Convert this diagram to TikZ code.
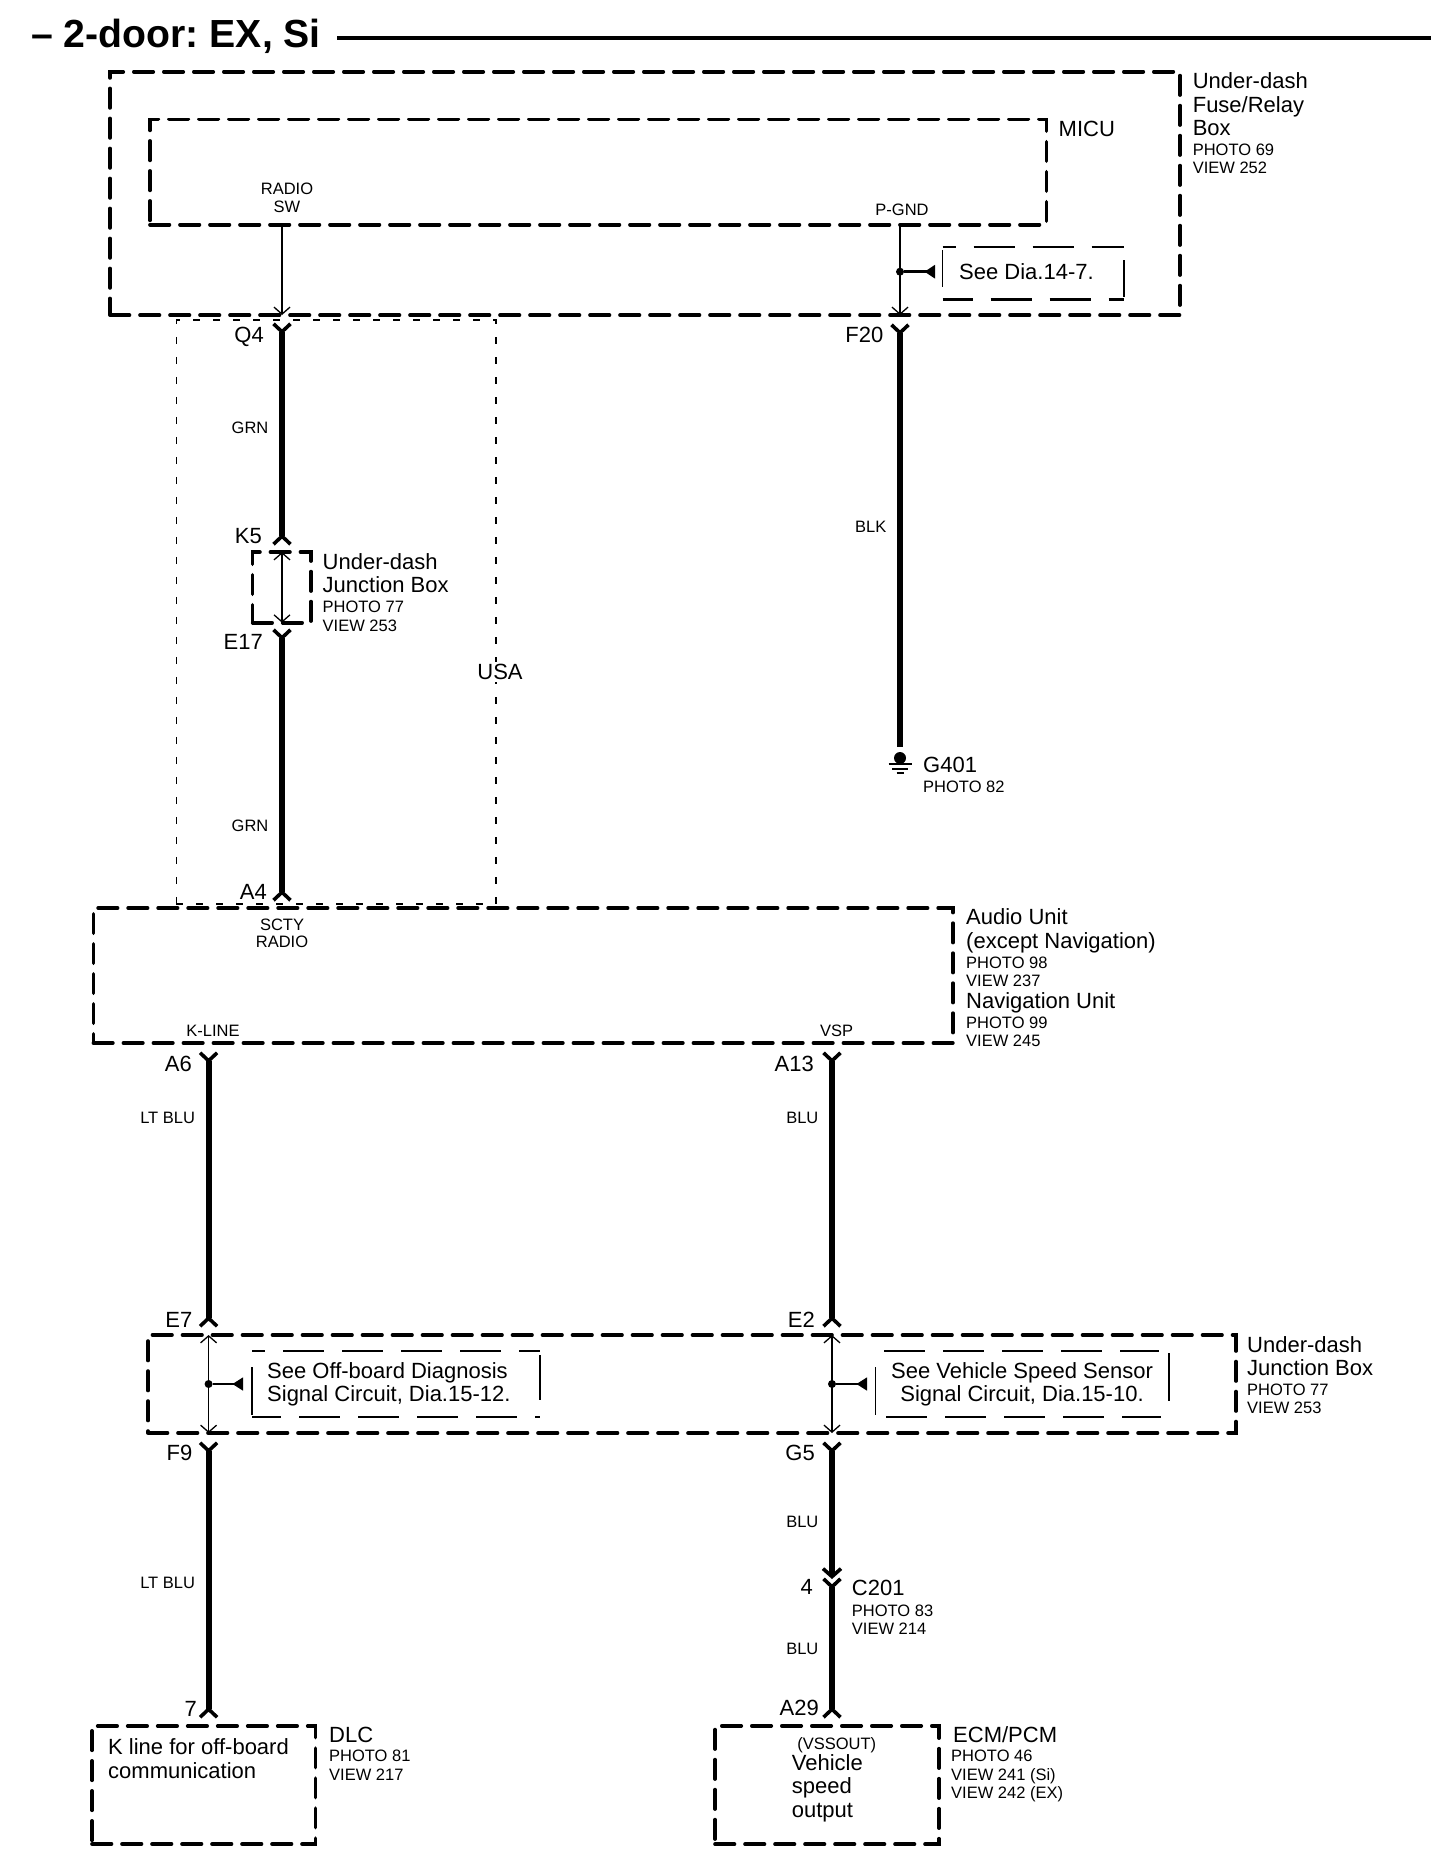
\documentclass[tikz,border=0pt]{standalone}
\usepackage{fontspec}
\setmainfont{Liberation Sans}
\usetikzlibrary{arrows.meta}
\tikzset{
  ycap/.tip={Straight Barb[reversed,length=8pt,width=17pt,line width=3.6pt]},
  vcap/.tip={Straight Barb[length=8pt,width=18pt,line width=3.6pt]},
  barb/.tip={Straight Barb[length=7pt,width=16pt,line width=1.3pt]},
  big/.style={font=\fontsize{22}{24}\selectfont,inner sep=0pt,anchor=west,text height=15.5pt,text depth=0pt},
  small/.style={font=\fontsize{16.5}{19}\selectfont,inner sep=0pt,anchor=west,text height=12pt,text depth=0pt},
  pin/.style={big,anchor=east},
  wirelab/.style={font=\fontsize{16.5}{19}\selectfont,inner sep=10.6pt,text height=12pt,text depth=0pt},
  unitbox/.style={draw,line width=3.6pt,line cap=round,dash pattern=on 19.5pt off 10.5pt,inner sep=0pt,outer sep=0pt},
  usabox/.style={draw,line width=1.2pt,dash pattern=on 7pt off 13pt,inner sep=0pt,outer sep=0pt},
  wire/.style={line width=6pt,{ycap}-{ycap}},
  thinwire/.style={line width=1.4pt,-{barb}},
  bothwire/.style={line width=1.4pt,{barb}-{barb}},
  dot/.style={circle,fill,inner sep=0pt,minimum size=8pt},
  tap/.style={line width=1.4pt,-{Triangle[reversed,length=10.5pt,width=13pt]}},
  seeside/.style={line width=1.2pt},
  seedash/.style={line width=2.4pt,dash pattern=on 41pt off 18pt},
}
\begin{document}
\frenchspacing
\begin{tikzpicture}[auto,x=1pt,y=-1pt]
        \useasboundingbox (0,0) rectangle (1456,1874);
        \node[big,font=\fontsize{39.2}{44}\selectfont\bfseries,text height=28pt] (title) at (31,33) {– 2-door: EX, Si};
        \coordinate (ruleL) at (337,37.7);
        \coordinate (ruleR) at (1431,37.7);
        \draw[line width=4pt] (ruleL) to (ruleR);

        % boxes
        \node[usabox,minimum width=319.6pt,minimum height=584pt] (usa) at (336.2,612) {};
        \node[unitbox,minimum width=1070pt,minimum height=243.3pt] (fuse) at (645,193.4) {};
        \node[unitbox,minimum width=896.5pt,minimum height=105.4pt] (micu) at (598.2,172) {};
        \node[unitbox,minimum width=58.3pt,minimum height=70.7pt] (jbA) at (281.8,587.4) {};
        \node[unitbox,minimum width=859.6pt,minimum height=135pt] (audio) at (523.2,975.5) {};
        \node[unitbox,minimum width=1088pt,minimum height=98pt] (jbB) at (692,1384) {};
        \node[unitbox,minimum width=223.6pt,minimum height=118pt] (dlc) at (203.8,1785) {};
        \node[unitbox,minimum width=224pt,minimum height=118.3pt] (ecm) at (827,1785) {};

        % connector points
        \coordinate (radiosw) at (282,224.7);
        \coordinate (q4top) at (282,315);
        \coordinate (pgnd) at (900,224.7);
        \coordinate (f20top) at (900,315);
        \coordinate (Q4) at (282,322);
        \coordinate (K5) at (282,546);
        \coordinate (K5in) at (282,552);
        \coordinate (E17in) at (282,622.7);
        \coordinate (E17) at (282,628);
        \coordinate (A4) at (282,902);
        \coordinate (F20) at (900,323);
        \coordinate (G401) at (900,747);
        \coordinate (A6) at (208.6,1051);
        \coordinate (E7) at (208.6,1328);
        \coordinate (E7in) at (208.6,1335);
        \coordinate (F9in) at (208.6,1433);
        \coordinate (F9) at (208.6,1441);
        \coordinate (P7) at (208.6,1719);
        \coordinate (A13) at (832,1051);
        \coordinate (E2) at (832,1328);
        \coordinate (E2in) at (832,1335);
        \coordinate (G5in) at (832,1433);
        \coordinate (G5) at (832,1441);
        \coordinate (C201a) at (832,1579);
        \coordinate (C201b) at (832,1577);
        \coordinate (A29) at (832,1719);

        % wires
        \draw[thinwire] (radiosw) to (q4top);
        \draw[thinwire] (pgnd) to (f20top);
        \draw[wire] (Q4) to node[swap,wirelab,pos=.47]{GRN}(K5);
        \draw[bothwire] (K5in) to (E17in);
        \draw[wire] (E17) to node[swap,wirelab,pos=.72]{GRN}(A4);
        \draw[line width=6pt,{ycap}-] (F20) to node[swap,wirelab,pos=.48]{BLK}(G401);
        \draw[wire] (A6) to node[swap,wirelab,pos=.24]{LT BLU}(E7);
        \draw[bothwire] (E7in) to (F9in);
        \draw[wire] (F9) to node[swap,wirelab,pos=.51]{LT BLU}(P7);
        \draw[wire] (A13) to node[swap,wirelab,pos=.24]{BLU}(E2);
        \draw[bothwire] (E2in) to (G5in);
        \draw[line width=6pt,{ycap}-{vcap}] (G5) to node[swap,wirelab,pos=.58]{BLU}(C201a);
        \draw[wire] (C201b) to node[swap,wirelab,pos=.5]{BLU}(A29);

        % ground
        \node[circle,fill,inner sep=0pt,minimum size=12pt] (gnddot) at (900,758) {};
        \draw[line width=2pt] (888.5,763.5) to (911.5,763.5);
        \draw[line width=2pt] (892,768.5) to (908,768.5);
        \draw[line width=2pt] (896.5,773) to (903.5,773);

        % taps and see boxes
        \node[dot] (tapF) at (900,271.7) {};
        \coordinate (tipF) at (935,271.7);
        \draw[tap,line width=2.6pt] (tapF) to (tipF);
        \node[big] (seeF) at (959,271.7) {See Dia.14-7.};
        \draw[seeside] (942.5,250) to (942.5,286.7);
        \draw[seeside] (1124,260) to (1124,296.7);
        \draw[seedash,dash phase=28pt] (942.5,247) to (1124,247);
        \draw[seedash,dash phase=11pt] (942.5,299.3) to (1124,299.3);

        \node[dot] (tapE) at (208.6,1384) {};
        \coordinate (tipE) at (243,1384);
        \draw[tap] (tapE) to (tipE);
        \node[big] (seeE1) at (267,1371) {See Off-board Diagnosis};
        \node[big] (seeE2) at (267,1394) {Signal Circuit, Dia.15-12.};
        \draw[seeside] (252,1367) to (252,1415);
        \draw[seeside] (540,1355) to (540,1400);
        \draw[seedash,dash phase=28pt] (252,1350.7) to (540,1350.7);
        \draw[seedash,dash phase=12pt] (252,1417) to (540,1417);

        \node[dot] (tapS) at (832,1384) {};
        \coordinate (tipS) at (867,1384);
        \draw[tap] (tapS) to (tipS);
        \node[big,anchor=center] (seeS1) at (1022,1371) {See Vehicle Speed Sensor};
        \node[big,anchor=center] (seeS2) at (1022,1394) {Signal Circuit, Dia.15-10.};
        \draw[seeside] (875.7,1367) to (875.7,1415);
        \draw[seeside] (1169,1353) to (1169,1400.7);
        \draw[seedash] (884,1350.7) to (1159,1350.7);
        \draw[seedash] (886,1417) to (1161,1417);

        % fuse box and MICU labels
        \node[big] (fuse1) at (1192.6,81) {Under-dash};
        \node[big] (fuse2) at (1192.6,105) {Fuse/Relay};
        \node[big] (fuse3) at (1192.6,128) {Box};
        \node[small] (fuse4) at (1192.6,149) {PHOTO 69};
        \node[small] (fuse5) at (1192.6,167.7) {VIEW 252};
        \node[big] (micuL) at (1058.5,129) {MICU};
        \node[small,anchor=center] (radio1) at (287,188) {RADIO};
        \node[small,anchor=center] (radio2) at (287,206) {SW};
        \node[small,anchor=center] (pgndL) at (902,209) {P-GND};
        \node[pin] (q4L) at (264,335) {Q4};
        \node[pin] (f20L) at (883.5,335) {F20};

        % under-dash junction box (upper)
        \node[pin] (k5L) at (262,536) {K5};
        \node[pin] (e17L) at (263,642) {E17};
        \node[big] (jbA1) at (322.5,562) {Under-dash};
        \node[big] (jbA2) at (322.5,585) {Junction Box};
        \node[small] (jbA3) at (322.5,606) {PHOTO 77};
        \node[small] (jbA4) at (322.5,625) {VIEW 253};
        \node[big,anchor=center,fill=white,inner sep=2pt] (usaL) at (500,672) {USA};

        % ground label
        \node[big] (g401L) at (923,765) {G401};
        \node[small] (g401P) at (923,786) {PHOTO 82};

        % audio unit
        \node[pin] (a4L) at (267,892) {A4};
        \node[small,anchor=center] (scty1) at (282,924.3) {SCTY};
        \node[small,anchor=center] (scty2) at (282,941.7) {RADIO};
        \node[small,anchor=center] (klineL) at (213,1030.7) {K-LINE};
        \node[small,anchor=center] (vspL) at (836.7,1030.7) {VSP};
        \node[pin] (a6L) at (192,1063.5) {A6};
        \node[pin] (a13L) at (814,1063.5) {A13};
        \node[big] (audio1) at (966,917) {Audio Unit};
        \node[big] (audio2) at (966,941) {(except Navigation)};
        \node[small] (audio3) at (966,962) {PHOTO 98};
        \node[small] (audio4) at (966,980) {VIEW 237};
        \node[big] (audio5) at (966,1001) {Navigation Unit};
        \node[small] (audio6) at (966,1022) {PHOTO 99};
        \node[small] (audio7) at (966,1040) {VIEW 245};

        % under-dash junction box (lower)
        \node[pin] (e7L) at (192.5,1319.7) {E7};
        \node[pin] (e2L) at (815,1319.7) {E2};
        \node[pin] (f9L) at (192.5,1453) {F9};
        \node[pin] (g5L) at (815,1453) {G5};
        \node[big] (jbB1) at (1247,1345) {Under-dash};
        \node[big] (jbB2) at (1247,1368) {Junction Box};
        \node[small] (jbB3) at (1247,1389) {PHOTO 77};
        \node[small] (jbB4) at (1247,1407) {VIEW 253};

        % C201
        \node[pin] (p4L) at (813,1586.7) {4};
        \node[big] (c201L) at (851.7,1588) {C201};
        \node[small] (c201P) at (851.7,1610) {PHOTO 83};
        \node[small] (c201V) at (851.7,1628) {VIEW 214};

        % DLC and ECM
        \node[pin] (p7L) at (197,1709) {7};
        \node[big] (dlc1) at (108,1746.5) {K line for off-board};
        \node[big] (dlc2) at (108,1770.5) {communication};
        \node[big] (dlcL) at (329,1734.6) {DLC};
        \node[small] (dlcP) at (329,1755) {PHOTO 81};
        \node[small] (dlcV) at (329,1774) {VIEW 217};
        \node[pin] (a29L) at (819,1708) {A29};
        \node[small,anchor=center] (ecm1) at (836.7,1743) {(VSSOUT)};
        \node[big] (ecm2) at (791.7,1763) {Vehicle};
        \node[big] (ecm3) at (791.7,1786) {speed};
        \node[big] (ecm4) at (791.7,1810) {output};
        \node[big] (ecmL) at (953,1735) {ECM/PCM};
        \node[small] (ecmP) at (951,1755.7) {PHOTO 46};
        \node[small] (ecmV1) at (951,1774) {VIEW 241 (Si)};
        \node[small] (ecmV2) at (951,1792) {VIEW 242 (EX)};

      \end{tikzpicture}
\end{document}
